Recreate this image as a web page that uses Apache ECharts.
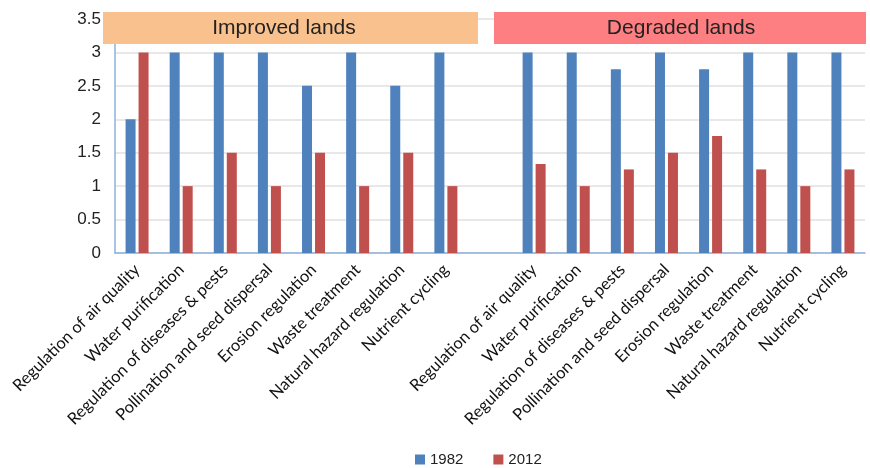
<!DOCTYPE html>
<html><head><meta charset="utf-8">
<script src="https://cdn.jsdelivr.net/npm/echarts@6/dist/echarts.min.js"></script>
<style>html,body{margin:0;padding:0;background:#fff}#c{width:870px;height:468px}</style>
</head><body><div id="c"></div>
<script>
const services = ['Regulation of air quality','Water purification','Regulation of diseases & pests','Pollination and seed dispersal','Erosion regulation','Waste treatment','Natural hazard regulation','Nutrient cycling'];
const categories = services.concat([''], services);
const improved1982 = [2,3,3,3,2.5,3,2.5,3];
const improved2012 = [3,1,1.5,1,1.5,1,1.5,1];
const degraded1982 = [3,3,2.75,3,2.75,3,3,3];
const degraded2012 = [1.33,1,1.25,1.5,1.75,1.25,1,1.25];
const groupTitles = ['Improved lands','Degraded lands'];
const s1982 = improved1982.concat([null], degraded1982);
const s2012 = improved2012.concat([null], degraded2012);

const chart = echarts.init(document.getElementById('c'), null, {renderer:'canvas'});
chart.setOption({
  animation:false,
  textStyle:{fontFamily:'Liberation Sans'},
  grid:{left:115,right:5,top:19,bottom:215},
  legend:{top:452,left:415,padding:0,itemWidth:10,itemHeight:10,itemGap:30,icon:'rect',
    textStyle:{fontSize:15,color:'#222',fontFamily:'Liberation Sans'},data:['1982','2012']},
  xAxis:{type:'category',data:categories,
    axisLine:{lineStyle:{color:'#8DB0DC',width:1.5}},axisTick:{show:false},
    axisLabel:{interval:0,rotate:45,fontSize:16.5,color:'#111',fontFamily:'Lato',margin:14}},
  yAxis:{type:'value',min:0,max:3.5,interval:0.5,
    axisLine:{show:true,lineStyle:{color:'#8DB0DC',width:1.5}},
    splitLine:{lineStyle:{color:'#E0E0E0',width:1.5}},
    axisLabel:{fontSize:17,color:'#222',margin:14,fontFamily:'Liberation Sans'}},
  series:[
    {name:'1982',type:'bar',data:s1982,barWidth:10,barGap:'30%',itemStyle:{color:'#4F81BD'}},
    {name:'2012',type:'bar',data:s2012,barWidth:10,itemStyle:{color:'#C0504D'}}
  ],
  graphic:[
    {type:'rect',z:100,shape:{x:103,y:12,width:375,height:32},style:{fill:'#F9C18D'}},
    {type:'text',z:101,style:{x:284,y:28,text:groupTitles[0],fontSize:21,fill:'#222',fontFamily:'Liberation Sans',align:'center',verticalAlign:'middle'}},
    {type:'rect',z:100,shape:{x:494,y:12,width:372,height:32},style:{fill:'#FD7F81'}},
    {type:'text',z:101,style:{x:681,y:28,text:groupTitles[1],fontSize:21,fill:'#222',fontFamily:'Liberation Sans',align:'center',verticalAlign:'middle'}}
  ]
});
</script></body></html>
